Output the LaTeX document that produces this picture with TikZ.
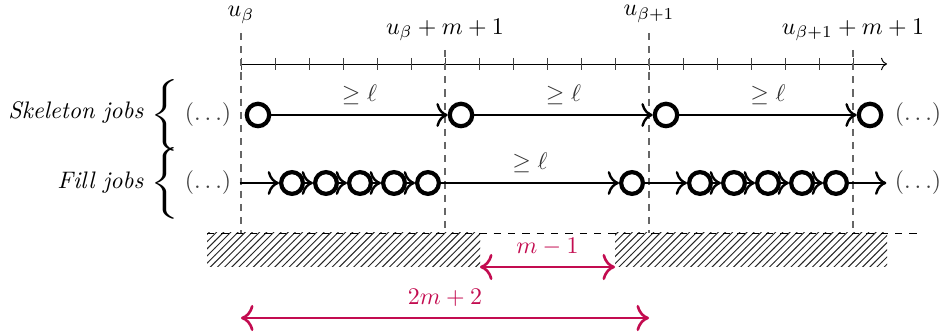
\documentclass[tikz,border=0pt]{standalone}
\usetikzlibrary{patterns,arrows.meta}
\definecolor{crim}{RGB}{195,12,80}
\tikzset{
  x=0.0147059cm, y=-0.0147059cm,
  job/.style={circle, draw=black, line width=1.75pt, inner sep=0pt, minimum size=0.33cm},
  fjob/.style={circle, draw=black, line width=1.75pt, inner sep=0pt, minimum size=0.32cm},
  conn/.style={line width=1pt, -{Computer Modern Rightarrow[scale=1.25]}},
  guide/.style={black!60, line width=0.45pt, dash pattern=on 3pt off 2.5pt},
  dots/.style={text=black!75},
  lbl/.style={midway, above=0.5pt, black!80},
  meas/.style={crim, line width=1.1pt, {Computer Modern Rightarrow[scale=1.3]}-{Computer Modern Rightarrow[scale=1.3]}},
  bracebox/.style={inner sep=0pt},
}
\begin{document}
\begin{tikzpicture}
\useasboundingbox (0,0) rectangle (945,334);

% top labels
\node (lb0) at (241,15) {$u_\beta$};
\node (lb1) at (445,30) {$u_\beta+m+1$};
\node (lb2) at (649,14) {$u_{\beta+1}$};
\node (lb3) at (853,30) {$u_{\beta+1}+m+1$};

% axis
\coordinate (ax0) at (241,64);
\coordinate (ax1) at (887,64);
\draw[->] (ax0) -- (ax1);
\foreach \k in {0,...,18} {
  \draw[black!75] (241+34*\k,58) -- (241+34*\k,70);
}

% guide lines
\coordinate (g0t) at (241,33); \coordinate (g0b) at (241,233);
\coordinate (g1t) at (445,50); \coordinate (g1b) at (445,233);
\coordinate (g2t) at (649,33); \coordinate (g2b) at (649,233);
\coordinate (g3t) at (853,50); \coordinate (g3b) at (853,233);
\draw[guide] (g0t) -- (g0b);
\draw[guide] (g1t) -- (g1b);
\draw[guide] (g2t) -- (g2b);
\draw[guide] (g3t) -- (g3b);

% hatched
\fill[pattern=north east lines, pattern color=black!85] (207,233) rectangle (480,267);
\fill[pattern=north east lines, pattern color=black!85] (615,233) rectangle (887,267);
\coordinate (hl) at (207,233); \coordinate (hr) at (920,233);
\draw[dashed] (hl) -- (hr);

% row labels and braces
\node[anchor=east] (skl) at (152,113) {\textit{Skeleton jobs}};
\node[anchor=east] (fil) at (152,183) {\textit{Fill jobs}};
\node[bracebox] (br1) at (165,115) {\scalebox{1.5}[1.0]{$\Bigg\{$}};
\node[bracebox] (br2) at (165,183) {\scalebox{1.5}[1.0]{$\Bigg\{$}};

% skeleton row
\node[dots] (sl) at (208,115) {$(\ldots)$};
\node[dots] (sr) at (918,115) {$(\ldots)$};
\node[job] (s1) at (258,115) {};
\node[job] (s2) at (461,115) {};
\node[job] (s3) at (666,115) {};
\node[job] (s4) at (870,115) {};
\draw[conn] (s1) -- (s2) node[lbl] {$\geq \ell$};
\draw[conn] (s2) -- (s3) node[lbl] {$\geq \ell$};
\draw[conn] (s3) -- (s4) node[lbl] {$\geq \ell$};

% fill row
\node[dots] (fl) at (208,183) {$(\ldots)$};
\node[dots] (fr) at (918,183) {$(\ldots)$};
\foreach \i in {1,...,5} {
  \node[fjob] (f\i) at (241+34*\i+17,183) {};
  \node[fjob] (h\i) at (649+34*\i+17,183) {};
}
\node[fjob] (g) at (632,183) {};
\draw[conn] (fl) -- (f1);
\draw[conn] (f1) -- (f2);
\draw[conn] (f2) -- (f3);
\draw[conn] (f3) -- (f4);
\draw[conn] (f4) -- (f5);
\draw[conn] (f5) -- (g) node[lbl] {$\geq \ell$};
\draw[conn] (g) -- (h1);
\draw[conn] (h1) -- (h2);
\draw[conn] (h2) -- (h3);
\draw[conn] (h3) -- (h4);
\draw[conn] (h4) -- (h5);
\draw[conn] (h5) -- (fr);

% measures
\coordinate (m1a) at (480,267); \coordinate (m1b) at (615,267);
\draw[meas] (m1a) -- (m1b) node[midway, above=1pt] {$m-1$};
\coordinate (m2a) at (241,318); \coordinate (m2b) at (649,318);
\draw[meas] (m2a) -- (m2b) node[midway, above=1pt] {$2m+2$};
\end{tikzpicture}
\end{document}
